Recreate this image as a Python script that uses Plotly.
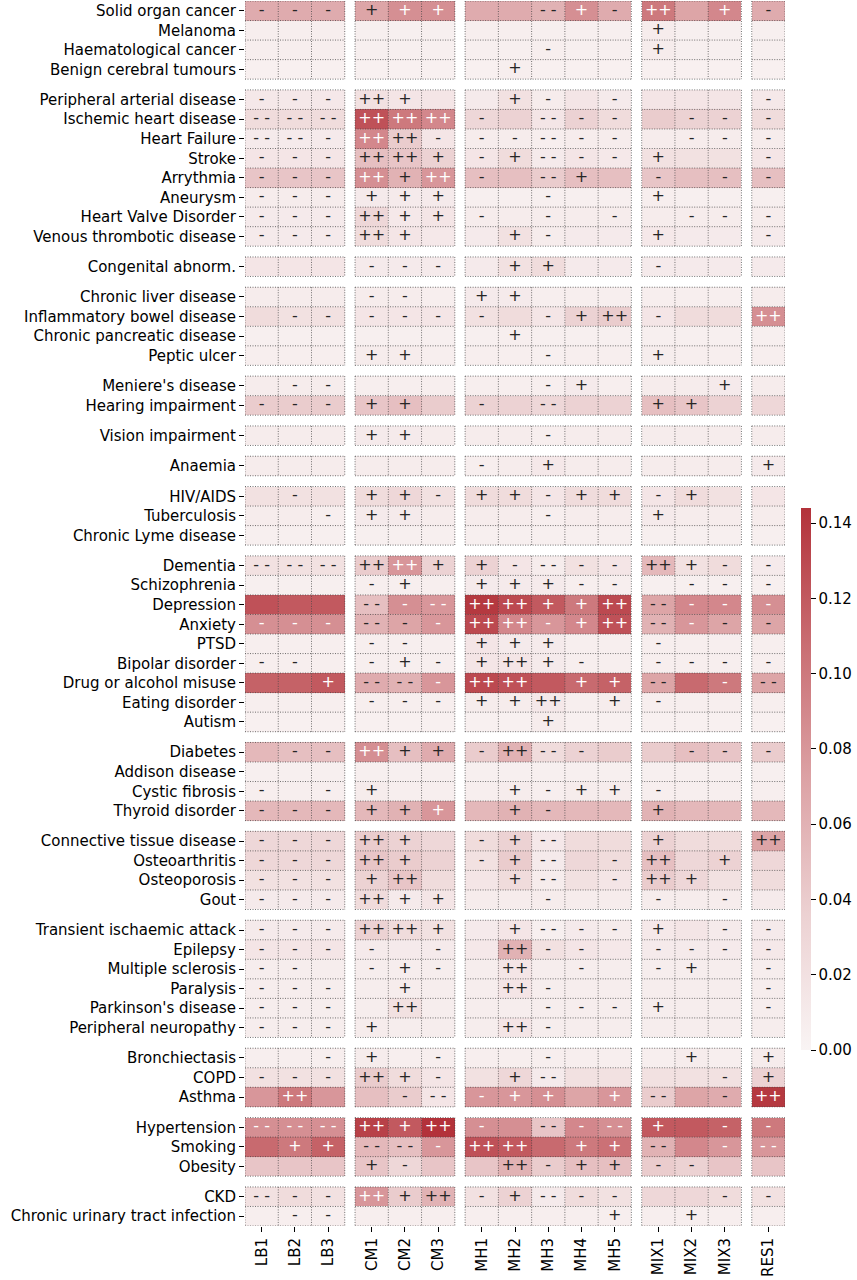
import plotly.graph_objects as go
from plotly.colors import sample_colorscale, unlabel_rgb

# ---- data -------------------------------------------------------------
columns = ["LB1", "LB2", "LB3", "CM1", "CM2", "CM3",
           "MH1", "MH2", "MH3", "MH4", "MH5", "MIX1", "MIX2", "MIX3", "RES1"]
column_group_sizes = [3, 3, 5, 3, 1]

conditions = [
    "Solid organ cancer", "Melanoma", "Haematological cancer", "Benign cerebral tumours",
    "Peripheral arterial disease", "Ischemic heart disease", "Heart Failure", "Stroke",
    "Arrythmia", "Aneurysm", "Heart Valve Disorder", "Venous thrombotic disease",
    "Congenital abnorm.",
    "Chronic liver disease", "Inflammatory bowel disease", "Chronic pancreatic disease", "Peptic ulcer",
    "Meniere's disease", "Hearing impairment",
    "Vision impairment",
    "Anaemia",
    "HIV/AIDS", "Tuberculosis", "Chronic Lyme disease",
    "Dementia", "Schizophrenia", "Depression", "Anxiety", "PTSD", "Bipolar disorder",
    "Drug or alcohol misuse", "Eating disorder", "Autism",
    "Diabetes", "Addison disease", "Cystic fibrosis", "Thyroid disorder",
    "Connective tissue disease", "Osteoarthritis", "Osteoporosis", "Gout",
    "Transient ischaemic attack", "Epilepsy", "Multiple sclerosis", "Paralysis",
    "Parkinson's disease", "Peripheral neuropathy",
    "Bronchiectasis", "COPD", "Asthma",
    "Hypertension", "Smoking", "Obesity",
    "CKD", "Chronic urinary tract infection",
]
condition_group_sizes = [4, 8, 1, 4, 2, 1, 1, 3, 9, 4, 4, 6, 3, 3, 2]

# prevalence (colour) per condition x cluster
values = [
    [.065, .065, .065, .07, .085, .085, .065, .065, .06, .085, .065, .10, .07, .09, .065],
    [.006, .006, .006, .005, .005, .005, .006, .006, .005, .005, .005, .008, .005, .005, .005],
    [.006, .006, .006, .005, .005, .005, .005, .005, .006, .005, .005, .008, .005, .005, .005],
    [.004, .004, .004, .004, .004, .004, .004, .006, .004, .004, .004, .004, .004, .004, .004],
    [.012, .012, .012, .02, .015, .015, .01, .02, .008, .015, .01, .015, .015, .015, .012],
    [.025, .025, .025, .125, .10, .09, .03, .035, .015, .035, .025, .04, .035, .035, .025],
    [.01, .01, .01, .09, .04, .015, .008, .008, .006, .008, .008, .008, .008, .008, .008],
    [.015, .015, .015, .05, .045, .035, .015, .025, .01, .015, .012, .02, .02, .02, .015],
    [.045, .045, .045, .085, .06, .08, .05, .05, .04, .05, .05, .045, .05, .05, .05],
    [.008, .008, .008, .01, .01, .01, .005, .005, .005, .005, .005, .006, .005, .005, .005],
    [.01, .01, .01, .03, .012, .015, .008, .008, .008, .008, .008, .008, .008, .008, .008],
    [.01, .01, .01, .025, .015, .012, .01, .02, .008, .01, .01, .012, .01, .01, .01],
    [.015, .015, .015, .01, .01, .01, .01, .02, .025, .01, .01, .01, .01, .01, .01],
    [.008, .008, .008, .008, .008, .006, .01, .01, .006, .006, .006, .006, .006, .006, .008],
    [.025, .02, .02, .015, .015, .015, .02, .025, .015, .035, .04, .015, .025, .025, .085],
    [.005, .005, .005, .005, .005, .005, .005, .006, .005, .005, .005, .005, .005, .005, .005],
    [.006, .006, .006, .008, .008, .006, .006, .006, .005, .006, .006, .007, .006, .006, .006],
    [.008, .008, .008, .006, .006, .006, .006, .006, .006, .01, .006, .008, .008, .01, .008],
    [.04, .04, .04, .045, .05, .04, .035, .035, .03, .035, .035, .05, .045, .035, .03],
    [.008, .008, .008, .01, .01, .008, .008, .008, .006, .008, .008, .008, .008, .008, .008],
    [.008, .008, .008, .008, .008, .008, .006, .008, .012, .008, .008, .008, .008, .008, .01],
    [.02, .02, .02, .025, .03, .02, .025, .025, .015, .025, .025, .015, .025, .02, .015],
    [.008, .008, .006, .01, .01, .008, .008, .008, .006, .008, .008, .01, .008, .008, .008],
    [.005, .005, .005, .005, .005, .005, .005, .005, .005, .005, .005, .005, .005, .005, .005],
    [.02, .02, .02, .04, .08, .035, .035, .015, .008, .02, .015, .055, .02, .025, .01],
    [.005, .005, .005, .006, .006, .006, .01, .01, .01, .006, .006, .005, .005, .005, .005],
    [.125, .12, .12, .05, .085, .08, .14, .13, .12, .10, .13, .07, .09, .09, .085],
    [.085, .085, .085, .06, .07, .08, .13, .09, .08, .09, .125, .06, .08, .07, .07],
    [.006, .006, .006, .006, .006, .006, .015, .01, .01, .006, .006, .006, .006, .006, .006],
    [.006, .006, .006, .006, .006, .006, .015, .015, .01, .006, .006, .006, .006, .006, .006],
    [.115, .115, .12, .065, .06, .08, .13, .125, .12, .11, .115, .07, .11, .10, .07],
    [.006, .006, .006, .006, .006, .006, .008, .008, .012, .006, .008, .006, .006, .006, .006],
    [.004, .004, .004, .004, .004, .004, .004, .004, .008, .004, .004, .004, .004, .004, .004],
    [.055, .05, .05, .085, .05, .065, .04, .06, .025, .035, .04, .04, .05, .045, .04],
    [.005, .005, .005, .005, .005, .005, .005, .005, .005, .005, .005, .005, .005, .005, .005],
    [.006, .006, .006, .008, .006, .006, .006, .008, .006, .008, .008, .006, .006, .006, .006],
    [.055, .055, .055, .055, .06, .08, .055, .06, .055, .055, .055, .06, .055, .055, .055],
    [.03, .03, .03, .04, .035, .03, .025, .035, .012, .025, .025, .035, .025, .025, .07],
    [.03, .03, .03, .045, .04, .035, .02, .04, .01, .03, .025, .05, .03, .035, .03],
    [.02, .02, .02, .035, .045, .025, .015, .025, .008, .02, .015, .04, .03, .02, .025],
    [.01, .01, .01, .025, .01, .015, .008, .008, .008, .008, .008, .008, .008, .008, .01],
    [.01, .01, .01, .035, .025, .02, .01, .015, .005, .01, .008, .012, .015, .01, .01],
    [.015, .015, .015, .01, .01, .01, .012, .06, .02, .015, .012, .01, .01, .01, .012],
    [.007, .007, .007, .007, .007, .007, .007, .015, .007, .007, .007, .007, .007, .007, .007],
    [.007, .007, .007, .007, .008, .007, .007, .015, .007, .007, .007, .007, .007, .007, .007],
    [.007, .007, .007, .007, .02, .007, .007, .007, .007, .007, .007, .007, .007, .007, .007],
    [.007, .007, .007, .008, .007, .007, .007, .015, .007, .007, .007, .007, .007, .007, .007],
    [.006, .006, .006, .008, .006, .006, .006, .006, .006, .006, .006, .006, .008, .006, .008],
    [.02, .02, .02, .04, .025, .015, .02, .03, .01, .02, .02, .02, .02, .02, .035],
    [.08, .10, .08, .05, .04, .015, .08, .08, .085, .07, .08, .04, .07, .065, .14],
    [.085, .085, .085, .135, .12, .144, .085, .085, .045, .09, .085, .12, .12, .115, .10],
    [.11, .10, .115, .055, .05, .08, .125, .12, .11, .10, .105, .06, .09, .08, .08],
    [.045, .045, .045, .045, .03, .045, .045, .06, .04, .05, .05, .04, .035, .045, .045],
    [.02, .025, .02, .08, .04, .06, .02, .035, .01, .025, .02, .03, .03, .025, .02],
    [.006, .006, .006, .006, .006, .006, .006, .006, .006, .006, .006, .006, .006, .006, .006],
]

# over/under-representation marks per condition x cluster
signs = [
    ["-", "-", "-", "+", "+", "+", "", "", "--", "+", "-", "++", "", "+", "-"],
    ["", "", "", "", "", "", "", "", "", "", "", "+", "", "", ""],
    ["", "", "", "", "", "", "", "", "-", "", "", "+", "", "", ""],
    ["", "", "", "", "", "", "", "+", "", "", "", "", "", "", ""],
    ["-", "-", "-", "++", "+", "", "", "+", "-", "", "-", "", "", "", "-"],
    ["--", "--", "--", "++", "++", "++", "-", "", "--", "-", "-", "", "-", "-", "-"],
    ["--", "--", "-", "++", "++", "-", "-", "-", "--", "-", "-", "", "-", "-", "-"],
    ["-", "-", "-", "++", "++", "+", "-", "+", "--", "-", "-", "+", "", "", "-"],
    ["-", "-", "-", "++", "+", "++", "-", "", "--", "+", "", "-", "", "-", "-"],
    ["-", "-", "-", "+", "+", "+", "", "", "-", "", "", "+", "", "", ""],
    ["-", "-", "-", "++", "+", "+", "-", "", "-", "", "-", "", "-", "-", "-"],
    ["-", "-", "-", "++", "+", "", "", "+", "-", "", "", "+", "", "", "-"],
    ["", "", "", "-", "-", "-", "", "+", "+", "", "", "-", "", "", ""],
    ["", "", "", "-", "-", "", "+", "+", "", "", "", "", "", "", ""],
    ["", "-", "-", "-", "-", "-", "-", "", "-", "+", "++", "-", "", "", "++"],
    ["", "", "", "", "", "", "", "+", "", "", "", "", "", "", ""],
    ["", "", "", "+", "+", "", "", "", "-", "", "", "+", "", "", ""],
    ["", "-", "-", "", "", "", "", "", "-", "+", "", "", "", "+", ""],
    ["-", "-", "-", "+", "+", "", "-", "", "--", "", "", "+", "+", "", ""],
    ["", "", "", "+", "+", "", "", "", "-", "", "", "", "", "", ""],
    ["", "", "", "", "", "", "-", "", "+", "", "", "", "", "", "+"],
    ["", "-", "", "+", "+", "-", "+", "+", "-", "+", "+", "-", "+", "", ""],
    ["", "", "-", "+", "+", "", "", "", "-", "", "", "+", "", "", ""],
    ["", "", "", "", "", "", "", "", "", "", "", "", "", "", ""],
    ["--", "--", "--", "++", "++", "+", "+", "-", "--", "-", "-", "++", "+", "-", "-"],
    ["", "", "", "-", "+", "", "+", "+", "+", "-", "-", "", "-", "-", "-"],
    ["", "", "", "--", "-", "--", "++", "++", "+", "+", "++", "--", "-", "-", "-"],
    ["-", "-", "-", "--", "-", "-", "++", "++", "-", "+", "++", "--", "-", "-", "-"],
    ["", "", "", "-", "-", "", "+", "+", "+", "", "", "-", "", "", ""],
    ["-", "-", "", "-", "+", "-", "+", "++", "+", "-", "", "-", "-", "-", "-"],
    ["", "", "+", "--", "--", "-", "++", "++", "", "+", "+", "--", "", "-", "--"],
    ["", "", "", "-", "-", "-", "+", "+", "++", "", "+", "-", "", "", ""],
    ["", "", "", "", "", "", "", "", "+", "", "", "", "", "", ""],
    ["", "-", "-", "++", "+", "+", "-", "++", "--", "-", "", "", "-", "-", "-"],
    ["", "", "", "", "", "", "", "", "", "", "", "", "", "", ""],
    ["-", "", "-", "+", "", "", "", "+", "-", "+", "+", "-", "", "", ""],
    ["-", "-", "-", "+", "+", "+", "", "+", "-", "", "", "+", "", "", ""],
    ["-", "-", "-", "++", "+", "", "-", "+", "--", "", "", "+", "", "", "++"],
    ["-", "-", "-", "++", "+", "", "-", "+", "--", "", "-", "++", "", "+", ""],
    ["-", "-", "-", "+", "++", "", "", "+", "--", "", "-", "++", "+", "", ""],
    ["-", "-", "-", "++", "+", "+", "", "", "-", "", "", "-", "", "-", ""],
    ["-", "-", "-", "++", "++", "+", "", "+", "--", "-", "-", "+", "", "-", "-"],
    ["-", "-", "-", "-", "", "-", "", "++", "-", "-", "", "-", "-", "-", "-"],
    ["-", "-", "", "-", "+", "-", "", "++", "", "-", "", "-", "+", "", "-"],
    ["-", "-", "-", "", "+", "", "", "++", "-", "", "", "", "", "", "-"],
    ["-", "-", "-", "", "++", "", "", "", "-", "-", "-", "+", "", "", "-"],
    ["-", "-", "-", "+", "", "", "", "++", "-", "", "", "", "", "", ""],
    ["", "", "-", "+", "", "-", "", "", "-", "", "", "", "+", "", "+"],
    ["-", "-", "-", "++", "+", "-", "", "+", "--", "", "", "", "", "-", "+"],
    ["", "++", "", "", "-", "--", "-", "+", "+", "", "+", "--", "", "-", "++"],
    ["--", "--", "--", "++", "+", "++", "-", "", "--", "-", "--", "+", "", "-", "-"],
    ["", "+", "+", "--", "--", "-", "++", "++", "", "+", "+", "--", "", "-", "--"],
    ["", "", "", "+", "-", "", "", "++", "-", "+", "+", "-", "-", "", ""],
    ["--", "-", "-", "++", "+", "++", "-", "+", "--", "-", "-", "", "", "-", "-"],
    ["", "-", "-", "", "", "", "", "", "", "", "+", "", "+", "", ""],
]

colorbar_ticks = [0.00, 0.02, 0.04, 0.06, 0.08, 0.10, 0.12, 0.14]

# ---- style --------------------------------------------------------------
ZMAX = 0.144
COLORSCALE = [[0.0, "#f9f4f4"], [0.25, "#ecd1d2"], [0.5, "#dca2a5"],
              [0.75, "#c96d72"], [1.0, "#b3323a"]]
FONT = "DejaVu Sans"
COL_GAP = 0.31
ROW_GAP = 0.55


def layout_axis(sizes, gap):
    """bin edges (with gap bins), cell centres, block extents, z index map"""
    edges, centers, blocks, index = [0.0], [], [], []
    pos, k = 0.0, 0
    for g, n in enumerate(sizes):
        if g > 0:
            pos += gap
            edges.append(pos)
            index.append(None)
        start = pos
        for _ in range(n):
            centers.append(pos + 0.5)
            index.append(k)
            k += 1
            pos += 1
            edges.append(pos)
        blocks.append((start, pos))
    return edges, centers, blocks, index


col_edges, col_centers, col_blocks, col_index = layout_axis(column_group_sizes, COL_GAP)
row_edges, row_centers, row_blocks, row_index = layout_axis(condition_group_sizes, ROW_GAP)

z = [[None if (r is None or c is None) else values[r][c] for c in col_index]
     for r in row_index]

fig = go.Figure()
fig.add_trace(go.Heatmap(
    x=col_edges, y=row_edges, z=z, zmin=0, zmax=ZMAX,
    colorscale=COLORSCALE, hoverinfo="skip",
    colorbar=dict(
        x=(801 - 245) / 540, xanchor="left", xpad=0, thickness=10,
        len=542, lenmode="pixels", y=(1226 - 779) / 1225, yanchor="middle", ypad=0,
        outlinewidth=0, ticks="outside", ticklen=5, tickcolor="black",
        tickvals=colorbar_ticks, ticktext=[f"{t:.2f}" for t in colorbar_ticks],
        tickfont=dict(family=FONT, size=15, color="black"),
    ),
))

# dotted cell borders inside every block
gx, gy = [], []
for r0, r1 in row_blocks:
    for c0, c1 in col_blocks:
        yy = r0
        while yy <= r1 + 1e-9:
            gx += [c0, c1, None]
            gy += [yy, yy, None]
            yy += 1
        xx = c0
        while xx <= c1 + 1e-9:
            gx += [xx, xx, None]
            gy += [r0, r1, None]
            xx += 1
fig.add_trace(go.Scatter(
    x=gx, y=gy, mode="lines", hoverinfo="skip", showlegend=False,
    line=dict(color="rgba(70,70,70,0.75)", width=1, dash="1px,1.5px"),
))


def luminance(v):
    rgb = unlabel_rgb(sample_colorscale(COLORSCALE, [min(v / ZMAX, 1.0)])[0])
    lin = []
    for ch in rgb:
        c = ch / 255
        lin.append(c / 12.92 if c <= 0.03928 else ((c + 0.055) / 1.055) ** 2.4)
    return 0.2126 * lin[0] + 0.7152 * lin[1] + 0.0722 * lin[2]


marks = {"dark": ([], [], []), "light": ([], [], [])}
for i, row in enumerate(signs):
    for j, s in enumerate(row):
        if not s:
            continue
        key = "dark" if luminance(values[i][j]) > 0.408 else "light"
        marks[key][0].append(col_centers[j])
        marks[key][1].append(row_centers[i])
        marks[key][2].append(s.replace("--", "- -"))

for key, color in [("dark", "#262626"), ("light", "#ffffff")]:
    xs, ys, ts = marks[key]
    fig.add_trace(go.Scatter(
        x=xs, y=ys, text=ts, mode="text", hoverinfo="skip", showlegend=False,
        textposition="middle center",
        textfont=dict(family=FONT, size=16, color=color),
    ))

fig.update_layout(
    width=857, height=1280,
    margin=dict(l=245, r=72, t=1, b=54, autoexpand=False),
    paper_bgcolor="white", plot_bgcolor="white",
    font=dict(family=FONT, size=15, color="black"),
    xaxis=dict(
        range=[0, col_edges[-1]], tickvals=col_centers, ticktext=columns,
        tickangle=-90, ticks="outside", ticklen=5, tickcolor="black",
        showgrid=False, zeroline=False, showline=False, automargin=False,
        tickfont=dict(family=FONT, size=15, color="black"),
    ),
    yaxis=dict(
        range=[row_edges[-1], 0], tickvals=row_centers, ticktext=conditions,
        ticks="outside", ticklen=5, tickcolor="black",
        showgrid=False, zeroline=False, showline=False, automargin=False,
        tickfont=dict(family=FONT, size=15, color="black"),
    ),
)

# drop the default body margin so the 857x1280 figure fills the window exactly
fig.write_html("out.html", config={"displayModeBar": False},
               post_script="document.body.style.margin='0';")
